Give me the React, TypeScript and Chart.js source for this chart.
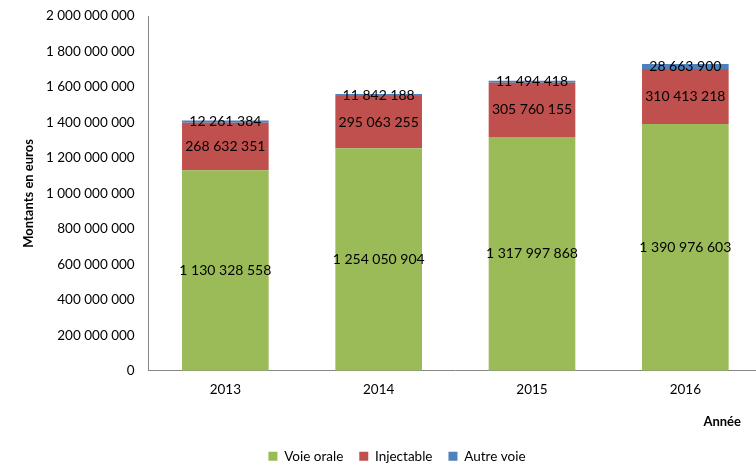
import React, { useEffect, useRef } from "react";
import { Chart, registerables } from "chart.js";

Chart.register(...registerables);

const years = ["2013", "2014", "2015", "2016"];
const voieOrale = [1130328558, 1254050904, 1317997868, 1390976603];
const injectable = [268632351, 295063255, 305760155, 310413218];
const autreVoie = [12261384, 11842188, 11494418, 28663900];
const yTicks = [0, 200000000, 400000000, 600000000, 800000000, 1000000000, 1200000000, 1400000000, 1600000000, 1800000000, 2000000000];

const FONT = "Lato, 'Open Sans', sans-serif";

const fmt = (v: number) => String(Math.round(v)).replace(/\B(?=(\d{3})+(?!\d))/g, " ");

const labelPlugin = {
  id: "segLabels",
  afterDatasetsDraw(chart: any) {
    const ctx = chart.ctx;
    ctx.save();
    ctx.font = `14px ${FONT}`;
    ctx.fillStyle = "#000";
    ctx.textAlign = "center";
    ctx.textBaseline = "middle";
    chart.data.datasets.forEach((ds: any, di: number) => {
      const meta = chart.getDatasetMeta(di);
      meta.data.forEach((bar: any, i: number) => {
        const props = bar.getProps(["x", "y", "base"], true);
        const cy = (props.y + props.base) / 2;
        ctx.fillText(fmt(ds.data[i]), props.x, cy);
      });
    });
    ctx.restore();
  },
};

const titlesPlugin = {
  id: "axisTitles",
  afterDraw(chart: any) {
    const ctx = chart.ctx;
    const a = chart.chartArea;
    ctx.save();
    ctx.font = `bold 13px ${FONT}`;
    ctx.fillStyle = "#000";
    ctx.textAlign = "right";
    ctx.textBaseline = "middle";
    ctx.fillText("Année", 741, a.bottom + 51);
    ctx.translate(29, (a.top + a.bottom) / 2);
    ctx.rotate(-Math.PI / 2);
    ctx.textAlign = "center";
    ctx.fillText("Montants en euros", 0, 0);
    ctx.restore();
  },
};

export default function App() {
  const ref = useRef<HTMLCanvasElement | null>(null);
  useEffect(() => {
    document.body.style.margin = "0";
    document.body.style.overflow = "hidden";
    const chart = new Chart(ref.current!, {
      type: "bar",
      data: {
        labels: years,
        datasets: [
          { label: "Voie orale", data: voieOrale, backgroundColor: "#9BBB59" },
          { label: "Injectable", data: injectable, backgroundColor: "#C0504D" },
          { label: "Autre voie", data: autreVoie, backgroundColor: "#4F81BD" },
        ],
      },
      options: {
        responsive: false,
        animation: false,
        devicePixelRatio: 1,
        layout: { padding: { top: 0, right: 0, left: 32, bottom: 0 } },
        datasets: { bar: { barPercentage: 0.565, categoryPercentage: 1 } },
        scales: {
          x: {
            stacked: true,
            grid: { display: false, drawTicks: false },
            border: { color: "#868686", width: 1 },
            ticks: { color: "#000", font: { family: FONT, size: 13.5 }, padding: 11 },
            title: { display: true, text: " ", font: { size: 13 }, padding: { top: 9, bottom: 0 } },
          },
          y: {
            stacked: true,
            min: 0,
            max: 2000000000,
            afterBuildTicks: (s: any) => {
              s.ticks = yTicks.map((v) => ({ value: v }));
            },
            grid: { display: false, drawTicks: false },
            border: { color: "#868686", width: 1 },
            ticks: {
              color: "#000",
              font: { family: FONT, size: 13.5 },
              padding: 14,
              callback: (v: any) => fmt(Number(v)),
            },
          },
        },
        plugins: {
          legend: {
            position: "bottom",
            labels: {
              color: "#000",
              font: { family: FONT, size: 13.5 },
              boxWidth: 9,
              boxHeight: 9,
              padding: 16,
            },
          },
          tooltip: { enabled: false },
        },
      },
      plugins: [labelPlugin, titlesPlugin],
    });
    return () => chart.destroy();
  }, []);
  return (
    <div style={{ width: 756, height: 466, overflow: "hidden" }}>
      <canvas ref={ref} width={762} height={479} style={{ display: "block", marginTop: -6 }} />
    </div>
  );
}
